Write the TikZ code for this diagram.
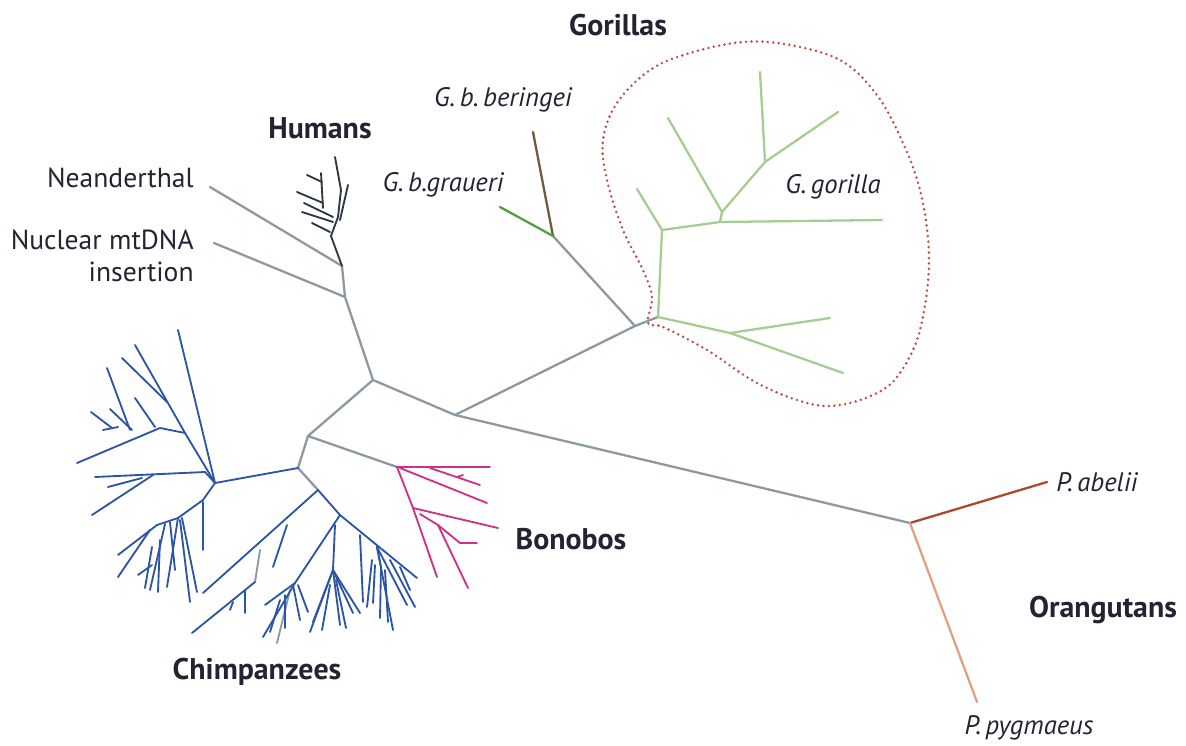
\documentclass[tikz,border=0pt]{standalone}
\usepackage{fontspec}
\setmainfont{PT Sans}
\definecolor{TreeGray}{RGB}{140,152,162}
\definecolor{ChimpBlue}{RGB}{45,85,165}
\definecolor{BonoboPink}{RGB}{205,50,135}
\definecolor{HumanDark}{RGB}{45,55,65}
\definecolor{GorLight}{RGB}{165,205,145}
\definecolor{GorGreen}{RGB}{80,160,60}
\definecolor{GorBrown}{RGB}{110,90,60}
\definecolor{OraRed}{RGB}{175,70,45}
\definecolor{OraPale}{RGB}{225,160,130}
\definecolor{RingRed}{RGB}{190,80,70}
\definecolor{LabelInk}{RGB}{35,35,50}
\usetikzlibrary{positioning}

\begin{document}
\begin{tikzpicture}[x=0.02cm, y=-0.02cm,
      branch/.style={line width=1.3pt, line cap=round, line join=round},
      twig/.style={line width=1.05pt, line cap=round, line join=round},
      taxon/.style={font=\fontsize{17}{20}\selectfont\bfseries, text=LabelInk, inner sep=0pt},
      species/.style={font=\fontsize{15.2}{18}\selectfont\itshape, text=LabelInk, inner sep=0pt},
      plain/.style={font=\fontsize{15.7}{18.5}\selectfont, text=LabelInk, inner sep=0pt}]
   \useasboundingbox (0,0) rectangle (1186,746);
   % Internal nodes of the tree
   \coordinate (root) at (373,380);
   \coordinate (hub) at (455,415);
   \coordinate (gor) at (635,326);
   \coordinate (gbe) at (553,236);
   \coordinate (gbtip) at (533,132);
   \coordinate (grtip) at (500,207);
   \coordinate (gg0) at (658,317);
   \coordinate (gg1) at (662,230);
   \coordinate (gg2) at (720,222);
   \coordinate (gg2b) at (722,212);
   \coordinate (gg3) at (765,162);
   \coordinate (gg4) at (730,333);
   \coordinate (ora) at (910,523);
   \coordinate (pabtip) at (1047,482);
   \coordinate (ppytip) at (977,702);
   \coordinate (hom) at (345,297);
   \coordinate (nea) at (342,266);
   \coordinate (hum) at (331,236);
   \coordinate (neatip) at (210,187);
   \coordinate (nuctip) at (214,243);
   \coordinate (pan) at (308,436);
   \coordinate (bon) at (397,467);
   \coordinate (chi) at (298,468);
   \coordinate (chiL) at (215,483);
   \coordinate (chiR) at (318,490);
   \coordinate (cM1) at (340,515);
   \coordinate (cM2) at (295,583);

   % Backbone
   \draw[branch, TreeGray] (hom) -- (root) -- (hub) -- (ora);
   \draw[branch, TreeGray] (hub) -- (gor) -- (gbe);
   \draw[branch, TreeGray] (root) -- (pan) -- (bon);
   \draw[branch, TreeGray] (pan) -- (chi) -- (chiR);
   \draw[branch, TreeGray] (hom) -- (nuctip);
   \draw[branch, TreeGray] (hom) -- (nea) -- (neatip);
   \draw[branch, TreeGray] (gor) -- (gg0);

   % Humans
   \draw[twig, HumanDark] (nea) -- (hum) -- (338,217) -- (341,190) -- (335,157);
   \foreach \x/\y/\u/\v in {340/220/348/185, 330/232/312/223, 333/217/304/203,
         333/222/302/212, 323/203/297/192, 322/182/307/175, 321/173/323/208}
      \draw[twig, HumanDark] (\x,\y) -- (\u,\v);

   % Gorillas
   \draw[branch, GorBrown] (gbe) -- (gbtip);
   \draw[branch, GorGreen] (gbe) -- (grtip);
   \draw[branch, GorLight] (gg0) -- (gg1) -- (637,189);
   \draw[branch, GorLight] (gg1) -- (gg2) -- (882,220);
   \draw[branch, GorLight] (gg2) -- (gg2b) -- (668,118);
   \draw[branch, GorLight] (gg2b) -- (gg3) -- (760,72);
   \draw[branch, GorLight] (gg3) -- (838,112);
   \draw[branch, GorLight] (gg0) -- (gg4) -- (843,373);
   \draw[branch, GorLight] (gg4) -- (830,318);
   \draw[RingRed, line width=1.6pt, line cap=round, dash pattern=on 0pt off 3.1pt]
      plot[smooth cycle, tension=0.6] coordinates {(648,323) (652,297) (643,270)
         (623,230) (607,180) (603,140) (617,103) (650,70) (690,53) (743,42)
         (790,45) (840,60) (873,90) (897,130) (920,190) (929,260) (920,330)
         (900,373) (877,393) (840,405) (807,403) (757,383) (707,350) (663,327)};

   % Orangutans
   \draw[branch, OraRed] (ora) -- (pabtip);
   \draw[branch, OraPale] (ora) -- (ppytip);

   % Bonobos
   \foreach \x/\y/\u/\v in {397/467/490/467, 430/468/480/485, 457/477/463/475,
         400/468/487/503, 397/467/413/508, 413/508/498/528, 413/508/437/577,
         420/514/438/525, 438/525/460/543, 460/543/477/543, 438/525/468/588}
      \draw[twig, BonoboPink] (\x,\y) -- (\u,\v);

   % Chimpanzees, west group
   \draw[twig, ChimpBlue] (chi) -- (chiL);
   \foreach \x/\y/\u/\v in {215/483/178/330, 215/483/185/433, 185/433/135/345,
         167/402/122/358, 130/430/107/368, 132/430/110/409, 112/428/91/412,
         118/427/103/430, 155/427/135/398, 185/433/160/428, 160/428/77/463,
         215/483/205/472, 205/472/95/477, 142/478/108/487, 153/475/92/515,
         215/483/203/500, 203/500/178/518, 178/518/157/525, 157/525/118/555,
         150/530/118/577, 152/547/145/588, 160/540/158/592, 138/575/152/565,
         178/518/167/587, 180/520/190/602, 182/518/197/592, 203/502/203/550,
         170/522/175/570, 165/524/150/590}
      \draw[twig, ChimpBlue] (\x,\y) -- (\u,\v);

   % Chimpanzees, south group
   \draw[twig, ChimpBlue] (chiR) -- (203,593);
   \draw[twig, ChimpBlue] (chiR) -- (cM1) -- (417,578);
   \draw[twig, ChimpBlue] (cM1) -- (cM2);
   \draw[twig, TreeGray] (260,550) -- (255,582);
   \draw[twig, TreeGray] (290,590) -- (277,643);
   \foreach \x/\y/\u/\v in {287/525/273/567, 255/582/192/633, 245/590/245/613,
         233/602/230/610, 295/583/265/605, 295/583/263/637, 293/585/300/620,
         285/595/285/628, 280/600/270/632, 298/585/308/612,
         335/525/333/570, 333/570/313/622, 333/570/310/632, 333/570/340/625,
         333/570/353/613, 333/570/360/613, 330/585/322/630, 336/580/346/628,
         360/535/363/602, 377/547/381/567, 381/567/380/618, 377/547/393/630,
         377/547/407/605, 372/560/367/607, 390/560/415/607, 375/565/373/603,
         385/570/388/622, 400/567/410/590}
      \draw[twig, ChimpBlue] (\x,\y) -- (\u,\v);

   % Labels
   \node[taxon] (gorillas) at (618,25) {Gorillas};
   \node[species] (beringei) at (503,100) {G.\,b.\,beringei};
   \node[species] (graueri) at (443,185) {G.\,b.graueri};
   \node[species] (ggorilla) at (833,187) {G.\,gorilla};
   \node[taxon] (humans) at (320,128) {Humans};
   \node[plain, anchor=east] (neand) at (194,178) {Neanderthal};
   \node[plain, anchor=east, align=right] (nuclear) at (194,256) {Nuclear mtDNA\\insertion};
   \node[taxon] (bonobos) at (571,539) {Bonobos};
   \node[taxon] (chimps) at (257,672) {Chimpanzees};
   \node[species, anchor=west] (abelii) at (1056,482) {P.\,abelii};
   \node[taxon] (orangs) at (1103,610) {Orangutans};
   \node[species] (pygmaeus) at (1029,728) {P.\,pygmaeus};
\end{tikzpicture}
\end{document}
